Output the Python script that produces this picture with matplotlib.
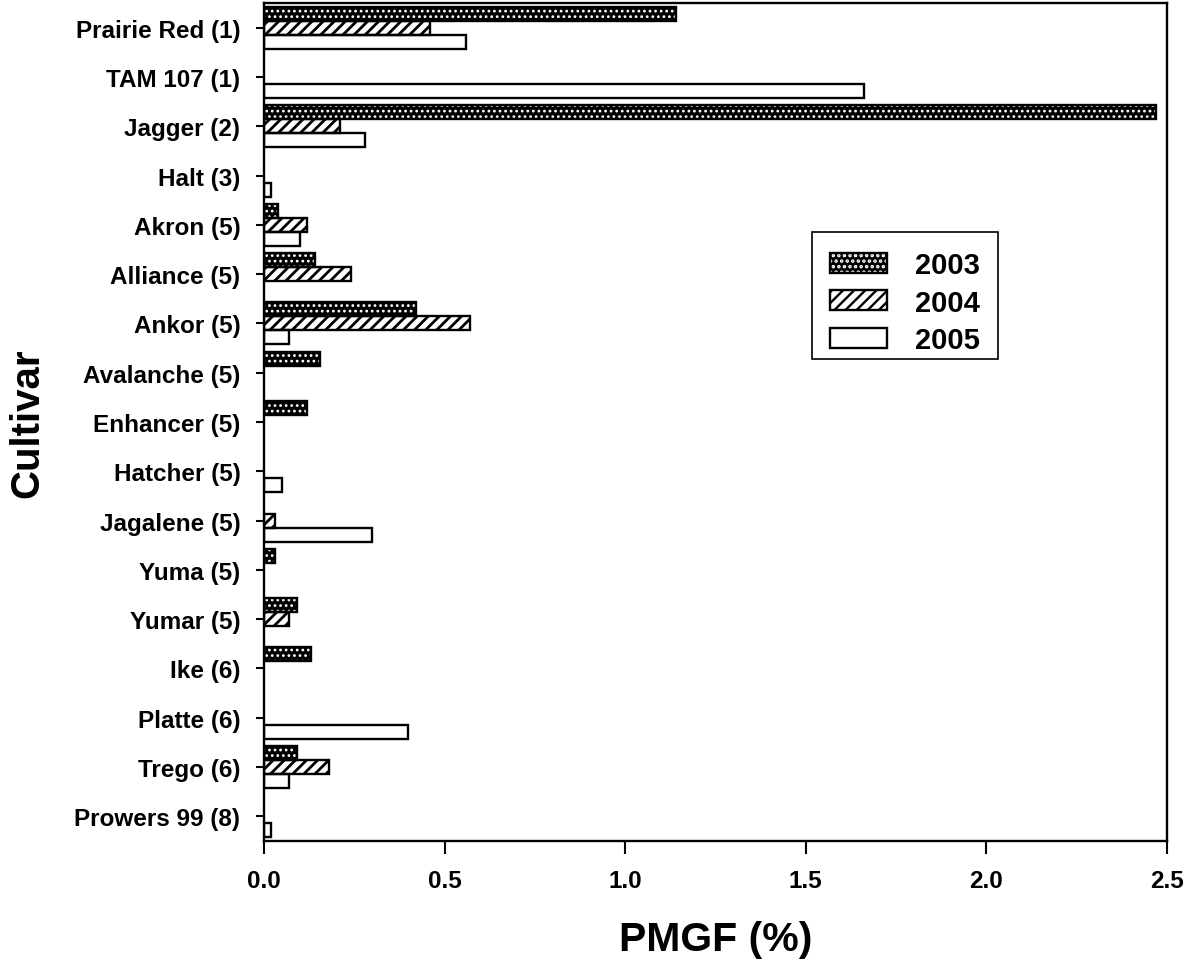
import numpy as np
import matplotlib
matplotlib.use("Agg")
import matplotlib.pyplot as plt
from matplotlib.patches import Patch, Rectangle

plt.rcParams['font.family'] = ['Liberation Sans', 'DejaVu Sans']
plt.rcParams['font.weight'] = 'bold'
plt.rcParams['hatch.linewidth'] = 1.7

cultivars = ["Prairie Red (1)", "TAM 107 (1)", "Jagger (2)", "Halt (3)", "Akron (5)",
             "Alliance (5)", "Ankor (5)", "Avalanche (5)", "Enhancer (5)", "Hatcher (5)",
             "Jagalene (5)", "Yuma (5)", "Yumar (5)", "Ike (6)", "Platte (6)",
             "Trego (6)", "Prowers 99 (8)"]
pmgf_2003 = [1.14, 0.0, 2.47, 0.0, 0.04, 0.14, 0.42, 0.155, 0.12, 0.0, 0.0, 0.03, 0.09, 0.13, 0.0, 0.09, 0.0]
pmgf_2004 = [0.46, 0.0, 0.21, 0.0, 0.12, 0.24, 0.57, 0.0, 0.0, 0.0, 0.03, 0.0, 0.07, 0.0, 0.0, 0.18, 0.0]
pmgf_2005 = [0.56, 1.66, 0.28, 0.02, 0.10, 0.0, 0.07, 0.0, 0.0, 0.05, 0.30, 0.0, 0.0, 0.0, 0.40, 0.07, 0.02]
years = ["2003", "2004", "2005"]
x_ticks = [0.0, 0.5, 1.0, 1.5, 2.0, 2.5]

fig = plt.figure(figsize=(11.9, 9.62), dpi=100)
ax = fig.add_axes([264/1190, 1-842/962, (1167-264)/1190, (842-4)/962])

h = 0.285
pos = np.arange(len(cultivars))
styles = [
    dict(face='black', hatch='...', hcol='white', hlw=1.2),
    dict(face='white', hatch='///', hcol='black', hlw=2.0),
    dict(face='white', hatch=None, hcol='black', hlw=1.0),
]


def set_hlw(p, lw):
    if hasattr(p, 'set_hatch_linewidth'):
        p.set_hatch_linewidth(lw)


series = [pmgf_2003, pmgf_2004, pmgf_2005]
for k, (vals, st) in enumerate(zip(series, styles)):
    vals = np.asarray(vals)
    m = vals > 0
    y = pos[m] + (k - 1) * h
    bars = ax.barh(y, vals[m], height=h, color=st['face'], hatch=st['hatch'],
                   edgecolor=st['hcol'], linewidth=0, zorder=2)
    for p in bars:
        set_hlw(p, st['hlw'])
    ax.barh(y, vals[m], height=h, facecolor='none', edgecolor='black',
            linewidth=1.7, zorder=3)

ax.set_xlim(0, 2.5)
ax.set_ylim(len(cultivars) - 0.5, -0.5)
ax.set_yticks(pos)
ax.set_yticklabels(cultivars, fontsize=17.5, fontweight='bold')
ax.set_xticks(x_ticks)
ax.set_xticklabels([f"{v:.1f}" for v in x_ticks], fontsize=17.5, fontweight='bold')
ax.tick_params(axis='y', direction='out', length=6, width=1.5, pad=11)
ax.tick_params(axis='x', direction='out', length=9, width=1.5, pad=11)
for s in ax.spines.values():
    s.set_linewidth(1.7)

ax.set_xlabel("PMGF (%)", fontsize=29.5, fontweight='bold', labelpad=20)
ax.set_ylabel("Cultivar", fontsize=29, fontweight='bold', labelpad=20)


def axx(px):
    return (px - 264) / 903


def axy(py):
    return 1 - (py - 4) / 838


# legend frame
ax.add_patch(Rectangle((axx(812), axy(360)), axx(998) - axx(812), axy(233) - axy(360),
                       transform=ax.transAxes, facecolor='white', edgecolor='black',
                       linewidth=1.2, zorder=4.5, clip_on=False))

handles = []
for st in styles:
    fill = Patch(facecolor=st['face'], hatch=st['hatch'], edgecolor=st['hcol'],
                 linewidth=0)
    set_hlw(fill, st['hlw'])
    outline = Patch(facecolor='none', edgecolor='black', linewidth=1.7)
    handles.append((fill, outline))
leg = ax.legend(handles, years, loc='upper left',
                bbox_to_anchor=(axx(818), axy(240)),
                fontsize=21, frameon=False,
                handlelength=1.95, handleheight=0.68,
                handletextpad=0.95, labelspacing=0.32, borderpad=0.42,
                borderaxespad=0)
leg.set_zorder(5)
for t in leg.get_texts():
    t.set_fontweight('bold')

fig.savefig("out.png", dpi=100)
